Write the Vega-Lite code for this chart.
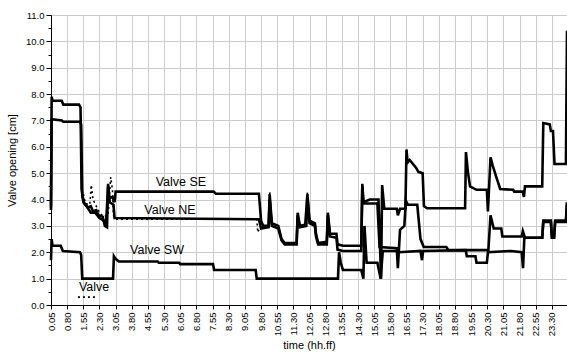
{
  "$schema": "https://vega.github.io/schema/vega-lite/v6.json",
  "width": 516,
  "height": 290,
  "autosize": {"type": "none"},
  "padding": {"left": 51, "top": 15, "right": 0, "bottom": 47},
  "background": "white",
  "config": {
    "font": "Liberation Sans",
    "view": {"stroke": "#808080", "strokeWidth": 1},
    "axis": {"domainColor": "black", "tickColor": "black", "labelColor": "black", "titleColor": "black", "labelFont": "Liberation Sans", "titleFont": "Liberation Sans", "titleFontWeight": "normal", "gridColor": "#cccccc", "gridWidth": 1}
  },
  "datasets": {
    "solid": [
      {"s": "SE", "t": 0.05, "v": 3.7}, {"s": "SE", "t": 0.08, "v": 7.9}, {"s": "SE", "t": 0.12, "v": 7.75}, {"s": "SE", "t": 0.55, "v": 7.75}, {"s": "SE", "t": 0.62, "v": 7.6}, {"s": "SE", "t": 1.35, "v": 7.6}, {"s": "SE", "t": 1.42, "v": 7.5}, {"s": "SE", "t": 1.47, "v": 4.4}, {"s": "SE", "t": 1.52, "v": 4.1}, {"s": "SE", "t": 1.6, "v": 3.85}, {"s": "SE", "t": 1.75, "v": 3.7}, {"s": "SE", "t": 1.9, "v": 3.75}, {"s": "SE", "t": 2.0, "v": 3.55}, {"s": "SE", "t": 2.15, "v": 3.6}, {"s": "SE", "t": 2.25, "v": 3.4}, {"s": "SE", "t": 2.45, "v": 3.35}, {"s": "SE", "t": 2.55, "v": 3.0}, {"s": "SE", "t": 2.65, "v": 2.95}, {"s": "SE", "t": 2.7, "v": 4.6}, {"s": "SE", "t": 2.75, "v": 4.05}, {"s": "SE", "t": 2.9, "v": 4.1}, {"s": "SE", "t": 3.0, "v": 3.9}, {"s": "SE", "t": 3.05, "v": 4.3}, {"s": "SE", "t": 7.6, "v": 4.3}, {"s": "SE", "t": 7.7, "v": 4.22}, {"s": "SE", "t": 9.7, "v": 4.22}, {"s": "SE", "t": 9.8, "v": 3.2}, {"s": "SE", "t": 9.9, "v": 3.0}, {"s": "SE", "t": 10.15, "v": 3.0}, {"s": "SE", "t": 10.2, "v": 4.2}, {"s": "SE", "t": 10.3, "v": 3.1}, {"s": "SE", "t": 10.6, "v": 3.0}, {"s": "SE", "t": 10.75, "v": 2.5}, {"s": "SE", "t": 10.9, "v": 2.35}, {"s": "SE", "t": 11.45, "v": 2.35}, {"s": "SE", "t": 11.5, "v": 3.5}, {"s": "SE", "t": 11.6, "v": 3.0}, {"s": "SE", "t": 11.85, "v": 3.05}, {"s": "SE", "t": 11.95, "v": 4.2}, {"s": "SE", "t": 12.05, "v": 3.2}, {"s": "SE", "t": 12.3, "v": 3.1}, {"s": "SE", "t": 12.35, "v": 2.7}, {"s": "SE", "t": 12.45, "v": 2.35}, {"s": "SE", "t": 12.85, "v": 2.4}, {"s": "SE", "t": 12.9, "v": 3.5}, {"s": "SE", "t": 13.0, "v": 2.7}, {"s": "SE", "t": 13.3, "v": 2.7}, {"s": "SE", "t": 13.35, "v": 2.3}, {"s": "SE", "t": 13.6, "v": 2.25}, {"s": "SE", "t": 14.45, "v": 2.25}, {"s": "SE", "t": 14.5, "v": 4.6}, {"s": "SE", "t": 14.55, "v": 3.9}, {"s": "SE", "t": 14.85, "v": 4.0}, {"s": "SE", "t": 15.25, "v": 4.0}, {"s": "SE", "t": 15.37, "v": 1.0}, {"s": "SE", "t": 15.42, "v": 4.55}, {"s": "SE", "t": 15.52, "v": 3.65}, {"s": "SE", "t": 16.1, "v": 3.65}, {"s": "SE", "t": 16.15, "v": 3.4}, {"s": "SE", "t": 16.25, "v": 3.65}, {"s": "SE", "t": 16.5, "v": 3.65}, {"s": "SE", "t": 16.55, "v": 5.9}, {"s": "SE", "t": 16.6, "v": 5.4}, {"s": "SE", "t": 16.7, "v": 5.5}, {"s": "SE", "t": 17.0, "v": 5.2}, {"s": "SE", "t": 17.1, "v": 5.05}, {"s": "SE", "t": 17.3, "v": 5.0}, {"s": "SE", "t": 17.36, "v": 3.75}, {"s": "SE", "t": 17.5, "v": 3.67}, {"s": "SE", "t": 19.27, "v": 3.67}, {"s": "SE", "t": 19.31, "v": 5.8}, {"s": "SE", "t": 19.4, "v": 5.05}, {"s": "SE", "t": 19.5, "v": 4.5}, {"s": "SE", "t": 19.8, "v": 4.37}, {"s": "SE", "t": 20.28, "v": 4.37}, {"s": "SE", "t": 20.33, "v": 3.55}, {"s": "SE", "t": 20.45, "v": 5.6}, {"s": "SE", "t": 20.55, "v": 5.3}, {"s": "SE", "t": 20.7, "v": 4.9}, {"s": "SE", "t": 20.9, "v": 4.4}, {"s": "SE", "t": 21.5, "v": 4.37}, {"s": "SE", "t": 21.55, "v": 4.3}, {"s": "SE", "t": 21.95, "v": 4.3}, {"s": "SE", "t": 22.0, "v": 4.1}, {"s": "SE", "t": 22.05, "v": 4.5}, {"s": "SE", "t": 22.85, "v": 4.5}, {"s": "SE", "t": 22.9, "v": 6.9}, {"s": "SE", "t": 23.2, "v": 6.85}, {"s": "SE", "t": 23.25, "v": 6.6}, {"s": "SE", "t": 23.35, "v": 6.6}, {"s": "SE", "t": 23.42, "v": 5.35}, {"s": "SE", "t": 23.95, "v": 5.35}, {"s": "SE", "t": 24.0, "v": 10.4},

      {"s": "NE", "t": 0.05, "v": 3.6}, {"s": "NE", "t": 0.08, "v": 7.05}, {"s": "NE", "t": 0.55, "v": 7.0}, {"s": "NE", "t": 0.62, "v": 6.95}, {"s": "NE", "t": 1.4, "v": 6.95}, {"s": "NE", "t": 1.45, "v": 6.85}, {"s": "NE", "t": 1.5, "v": 4.2}, {"s": "NE", "t": 1.55, "v": 3.9}, {"s": "NE", "t": 1.7, "v": 3.75}, {"s": "NE", "t": 1.9, "v": 3.5}, {"s": "NE", "t": 2.1, "v": 3.5}, {"s": "NE", "t": 2.3, "v": 3.3}, {"s": "NE", "t": 2.5, "v": 3.2}, {"s": "NE", "t": 2.6, "v": 3.0}, {"s": "NE", "t": 2.7, "v": 4.5}, {"s": "NE", "t": 2.78, "v": 3.9}, {"s": "NE", "t": 2.95, "v": 3.8}, {"s": "NE", "t": 3.0, "v": 3.3}, {"s": "NE", "t": 9.7, "v": 3.25}, {"s": "NE", "t": 9.8, "v": 2.9}, {"s": "NE", "t": 10.15, "v": 2.95}, {"s": "NE", "t": 10.2, "v": 4.0}, {"s": "NE", "t": 10.3, "v": 3.0}, {"s": "NE", "t": 10.6, "v": 2.9}, {"s": "NE", "t": 10.75, "v": 2.45}, {"s": "NE", "t": 10.9, "v": 2.3}, {"s": "NE", "t": 11.45, "v": 2.3}, {"s": "NE", "t": 11.5, "v": 3.4}, {"s": "NE", "t": 11.6, "v": 2.95}, {"s": "NE", "t": 11.9, "v": 3.0}, {"s": "NE", "t": 11.95, "v": 4.1}, {"s": "NE", "t": 12.05, "v": 3.1}, {"s": "NE", "t": 12.3, "v": 3.0}, {"s": "NE", "t": 12.35, "v": 2.6}, {"s": "NE", "t": 12.45, "v": 2.3}, {"s": "NE", "t": 12.85, "v": 2.3}, {"s": "NE", "t": 12.9, "v": 3.4}, {"s": "NE", "t": 13.0, "v": 2.6}, {"s": "NE", "t": 13.3, "v": 2.55}, {"s": "NE", "t": 13.35, "v": 2.1}, {"s": "NE", "t": 13.6, "v": 2.05}, {"s": "NE", "t": 14.45, "v": 2.05}, {"s": "NE", "t": 14.5, "v": 4.5}, {"s": "NE", "t": 14.55, "v": 3.85}, {"s": "NE", "t": 15.2, "v": 3.85}, {"s": "NE", "t": 15.3, "v": 2.2}, {"s": "NE", "t": 16.1, "v": 2.15}, {"s": "NE", "t": 16.15, "v": 1.4}, {"s": "NE", "t": 16.25, "v": 2.85}, {"s": "NE", "t": 16.45, "v": 3.0}, {"s": "NE", "t": 16.52, "v": 3.95}, {"s": "NE", "t": 16.62, "v": 3.8}, {"s": "NE", "t": 17.05, "v": 3.8}, {"s": "NE", "t": 17.2, "v": 2.5}, {"s": "NE", "t": 17.35, "v": 2.2}, {"s": "NE", "t": 18.4, "v": 2.2}, {"s": "NE", "t": 18.5, "v": 2.08}, {"s": "NE", "t": 20.35, "v": 2.08}, {"s": "NE", "t": 20.45, "v": 3.4}, {"s": "NE", "t": 20.6, "v": 2.9}, {"s": "NE", "t": 20.95, "v": 2.9}, {"s": "NE", "t": 21.0, "v": 2.6}, {"s": "NE", "t": 21.9, "v": 2.6}, {"s": "NE", "t": 21.95, "v": 2.8}, {"s": "NE", "t": 22.05, "v": 2.55}, {"s": "NE", "t": 22.85, "v": 2.55}, {"s": "NE", "t": 22.9, "v": 3.2}, {"s": "NE", "t": 23.25, "v": 3.2}, {"s": "NE", "t": 23.3, "v": 2.55}, {"s": "NE", "t": 23.4, "v": 2.55}, {"s": "NE", "t": 23.45, "v": 3.2}, {"s": "NE", "t": 23.95, "v": 3.2}, {"s": "NE", "t": 24.0, "v": 3.9},

      {"s": "SW", "t": 0.05, "v": 1.7}, {"s": "SW", "t": 0.08, "v": 2.5}, {"s": "SW", "t": 0.12, "v": 2.25}, {"s": "SW", "t": 0.5, "v": 2.25}, {"s": "SW", "t": 0.6, "v": 2.05}, {"s": "SW", "t": 1.4, "v": 2.0}, {"s": "SW", "t": 1.45, "v": 1.9}, {"s": "SW", "t": 1.5, "v": 1.0}, {"s": "SW", "t": 2.93, "v": 1.0}, {"s": "SW", "t": 2.97, "v": 1.85}, {"s": "SW", "t": 3.05, "v": 1.75}, {"s": "SW", "t": 3.2, "v": 1.65}, {"s": "SW", "t": 5.0, "v": 1.65}, {"s": "SW", "t": 5.05, "v": 1.6}, {"s": "SW", "t": 6.0, "v": 1.6}, {"s": "SW", "t": 6.05, "v": 1.55}, {"s": "SW", "t": 7.57, "v": 1.55}, {"s": "SW", "t": 7.62, "v": 1.33}, {"s": "SW", "t": 9.55, "v": 1.33}, {"s": "SW", "t": 9.6, "v": 1.0}, {"s": "SW", "t": 13.37, "v": 1.0}, {"s": "SW", "t": 13.42, "v": 2.0}, {"s": "SW", "t": 13.5, "v": 1.6}, {"s": "SW", "t": 13.6, "v": 1.33}, {"s": "SW", "t": 14.45, "v": 1.33}, {"s": "SW", "t": 14.55, "v": 1.0}, {"s": "SW", "t": 14.6, "v": 3.0}, {"s": "SW", "t": 14.7, "v": 1.6}, {"s": "SW", "t": 15.2, "v": 1.6}, {"s": "SW", "t": 15.35, "v": 1.0}, {"s": "SW", "t": 15.45, "v": 2.05}, {"s": "SW", "t": 16.1, "v": 2.05}, {"s": "SW", "t": 16.2, "v": 2.0}, {"s": "SW", "t": 17.2, "v": 2.05}, {"s": "SW", "t": 17.27, "v": 1.7}, {"s": "SW", "t": 17.32, "v": 2.05}, {"s": "SW", "t": 19.3, "v": 2.08}, {"s": "SW", "t": 19.35, "v": 1.85}, {"s": "SW", "t": 19.75, "v": 1.85}, {"s": "SW", "t": 19.8, "v": 1.6}, {"s": "SW", "t": 20.28, "v": 1.6}, {"s": "SW", "t": 20.33, "v": 2.0}, {"s": "SW", "t": 21.4, "v": 2.05}, {"s": "SW", "t": 21.9, "v": 2.0}, {"s": "SW", "t": 21.96, "v": 1.4}, {"s": "SW", "t": 22.02, "v": 2.55}, {"s": "SW", "t": 22.85, "v": 2.55}, {"s": "SW", "t": 22.9, "v": 3.15}, {"s": "SW", "t": 23.25, "v": 3.15}, {"s": "SW", "t": 23.3, "v": 2.55}, {"s": "SW", "t": 23.4, "v": 2.55}, {"s": "SW", "t": 23.45, "v": 3.15}, {"s": "SW", "t": 23.95, "v": 3.15}, {"s": "SW", "t": 24.0, "v": 3.85}
    ],
    "dotted": [
      {"g": "a", "t": 1.3, "v": 0.3}, {"g": "a", "t": 2.1, "v": 0.3},
      {"g": "b", "t": 1.55, "v": 4.2}, {"g": "b", "t": 1.65, "v": 3.85}, {"g": "b", "t": 1.85, "v": 3.8}, {"g": "b", "t": 1.92, "v": 4.55}, {"g": "b", "t": 2.0, "v": 4.0}, {"g": "b", "t": 2.15, "v": 3.75}, {"g": "b", "t": 2.3, "v": 3.5}, {"g": "b", "t": 2.5, "v": 3.35}, {"g": "b", "t": 2.7, "v": 3.4}, {"g": "b", "t": 2.82, "v": 4.85}, {"g": "b", "t": 2.9, "v": 4.4}, {"g": "b", "t": 2.95, "v": 3.4}, {"g": "b", "t": 3.05, "v": 3.25}, {"g": "b", "t": 9.6, "v": 3.25}, {"g": "b", "t": 9.65, "v": 2.75}, {"g": "b", "t": 9.72, "v": 2.9}, {"g": "b", "t": 9.8, "v": 2.95},
      {"g": "c", "t": 10.15, "v": 3.0}, {"g": "c", "t": 10.2, "v": 4.3}, {"g": "c", "t": 10.3, "v": 3.1},
      {"g": "d", "t": 11.9, "v": 3.05}, {"g": "d", "t": 11.95, "v": 4.3}, {"g": "d", "t": 12.05, "v": 3.2}
    ],
    "labels": [
      {"txt": "Valve SE", "t": 6.08, "v": 4.67},
      {"txt": "Valve NE", "t": 5.57, "v": 3.6},
      {"txt": "Valve SW", "t": 4.97, "v": 2.09},
      {"txt": "Valve", "t": 2.05, "v": 0.68}
    ]
  },
  "encoding": {
    "x": {"field": "t", "type": "quantitative", "scale": {"domain": [0.05, 24.0], "nice": false, "zero": false},
      "axis": {"title": "time (hh.ff)", "titleFontSize": 11, "titlePadding": 4, "values": [0.05, 0.8, 1.55, 2.3, 3.05, 3.8, 4.55, 5.3, 6.05, 6.8, 7.55, 8.3, 9.05, 9.8, 10.55, 11.3, 12.05, 12.8, 13.55, 14.3, 15.05, 15.8, 16.55, 17.3, 18.05, 18.8, 19.55, 20.3, 21.05, 21.8, 22.55, 23.3], "format": ".2f", "labelAngle": -90, "labelFontSize": 9.5, "labelPadding": 3, "tickSize": 4, "labelAlign": "right", "labelBaseline": "middle", "grid": true}},
    "y": {"field": "v", "type": "quantitative", "scale": {"domain": [0, 11], "nice": false},
      "axis": {"title": "Valve opening [cm]", "titleFontSize": 11, "titlePadding": 8, "values": [0, 0.5, 1, 1.5, 2, 2.5, 3, 3.5, 4, 4.5, 5, 5.5, 6, 6.5, 7, 7.5, 8, 8.5, 9, 9.5, 10, 10.5, 11], "labelExpr": "datum.value % 1 === 0 ? format(datum.value, '.1f') : ''", "labelFontSize": 9.5, "labelPadding": 2, "tickSize": {"condition": {"test": "datum.value % 1 !== 0", "value": 3}, "value": 5}, "gridOpacity": {"condition": {"test": "datum.value % 1 !== 0", "value": 0}, "value": 1}, "grid": true}}
  },
  "layer": [
    {"data": {"name": "dotted"}, "mark": {"type": "line", "color": "black", "strokeWidth": 1.6, "strokeDash": [2, 3]}, "encoding": {"detail": {"field": "g"}}},
    {"data": {"name": "solid"}, "mark": {"type": "line", "color": "black", "strokeWidth": 2.6, "strokeJoin": "miter"}, "encoding": {"detail": {"field": "s"}}},
    {"data": {"name": "labels"}, "mark": {"type": "text", "fontSize": 12.5, "font": "Liberation Sans", "color": "black"}, "encoding": {"text": {"field": "txt"}}}
  ]
}
